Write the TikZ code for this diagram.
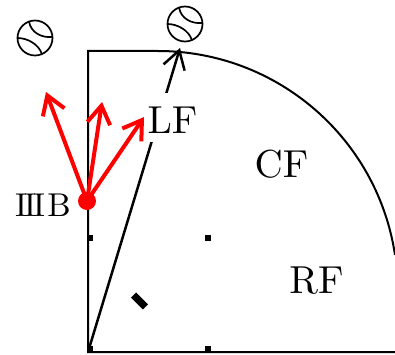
\documentclass[tikz,border=0pt]{standalone}
\usepackage{xcolor}
\usetikzlibrary{arrows.meta}
\font\fieldfont=cmr10 at 19.5pt
\font\basefont=cmr10 at 16.5pt
\tikzset{
  fieldline/.style={draw=black, line width=1pt},
  fieldlabel/.style={font=\fieldfont, inner sep=0pt},
  baselabel/.style={font=\basefont, inner sep=0pt},
  basemark/.style={rectangle, fill=black, inner sep=0pt, minimum size=3pt},
  platemark/.style={rectangle, fill=black, inner sep=0pt, minimum width=8.4pt, minimum height=3.7pt, rotate=-45},
  fielderdot/.style={circle, fill=red, inner sep=0pt, minimum size=9pt},
  throwarrow/.style={-{Straight Barb[length=9pt,width=11.5pt]}, draw=red, line width=2pt},
  hitarrow/.style={-{Straight Barb[length=9pt,width=11pt]}, draw=black, line width=1.25pt},
  ballpic/.pic={
    \draw[line width=0.85pt] (0,0) circle (17.5);
    \draw[line width=0.85pt] (-6,16.5) .. controls (-4,5) and (7,0) .. (17.5,1);
    \draw[line width=0.85pt] (-17.5,0) .. controls (-8,0) and (4,-6) .. (7,-16.5);
  },
}
\begin{document}
\begin{tikzpicture}[x=0.5pt, y=0.5pt]
  \useasboundingbox (0,0) rectangle (395,354);

  % ============ Field outline ============
  \clip (0,0) rectangle (395,354);
  \coordinate (home) at (88,2);
  \coordinate (corner) at (395,2);
  \draw[fieldline] (corner) -- (home) -- (88,303) -- (158,303) arc (90:8.6:239.7);

  % ============ Bases and plate ============
  \node[basemark] (third)  at (90,116) {};
  \node[basemark] (second) at (208,116) {};
  \node[basemark] (first)  at (208,5) {};
  \node[basemark] (plate)  at (90,5) {};
  \node[platemark] (rubber) at (139.5,53) {};

  % ============ Balls ============
  \pic at (35,316) {ballpic};
  \pic at (185,330) {ballpic};

  % ============ Hit, broken by the LF label ============
  \coordinate (hit) at (180,306);
  \draw[hitarrow] (home) -- (hit);

  % ============ Labels ============
  \node[fieldlabel, fill=white, text height=20pt, text depth=4.5pt] (lf) at (172.5,236.5) {LF};
  \node[fieldlabel] (cf) at (281.5,190) {CF};
  \node[fieldlabel] (rf) at (316.5,74) {RF};
  \node[baselabel] (tb) at (43,149) {I\kern-1.5pt I\kern-1.5pt I\kern1.2pt B};

  % ============ Fielder and throws ============
  \node[fielderdot] (fielder) at (87,153) {};
  \coordinate (throwa) at (46,262);
  \coordinate (throwb) at (102,252);
  \coordinate (throwc) at (144,237);
  \draw[throwarrow] (fielder.center) -- (throwa);
  \draw[throwarrow] (fielder.center) -- (throwb);
  \draw[throwarrow] (fielder.center) -- (throwc);

\end{tikzpicture}
\end{document}
